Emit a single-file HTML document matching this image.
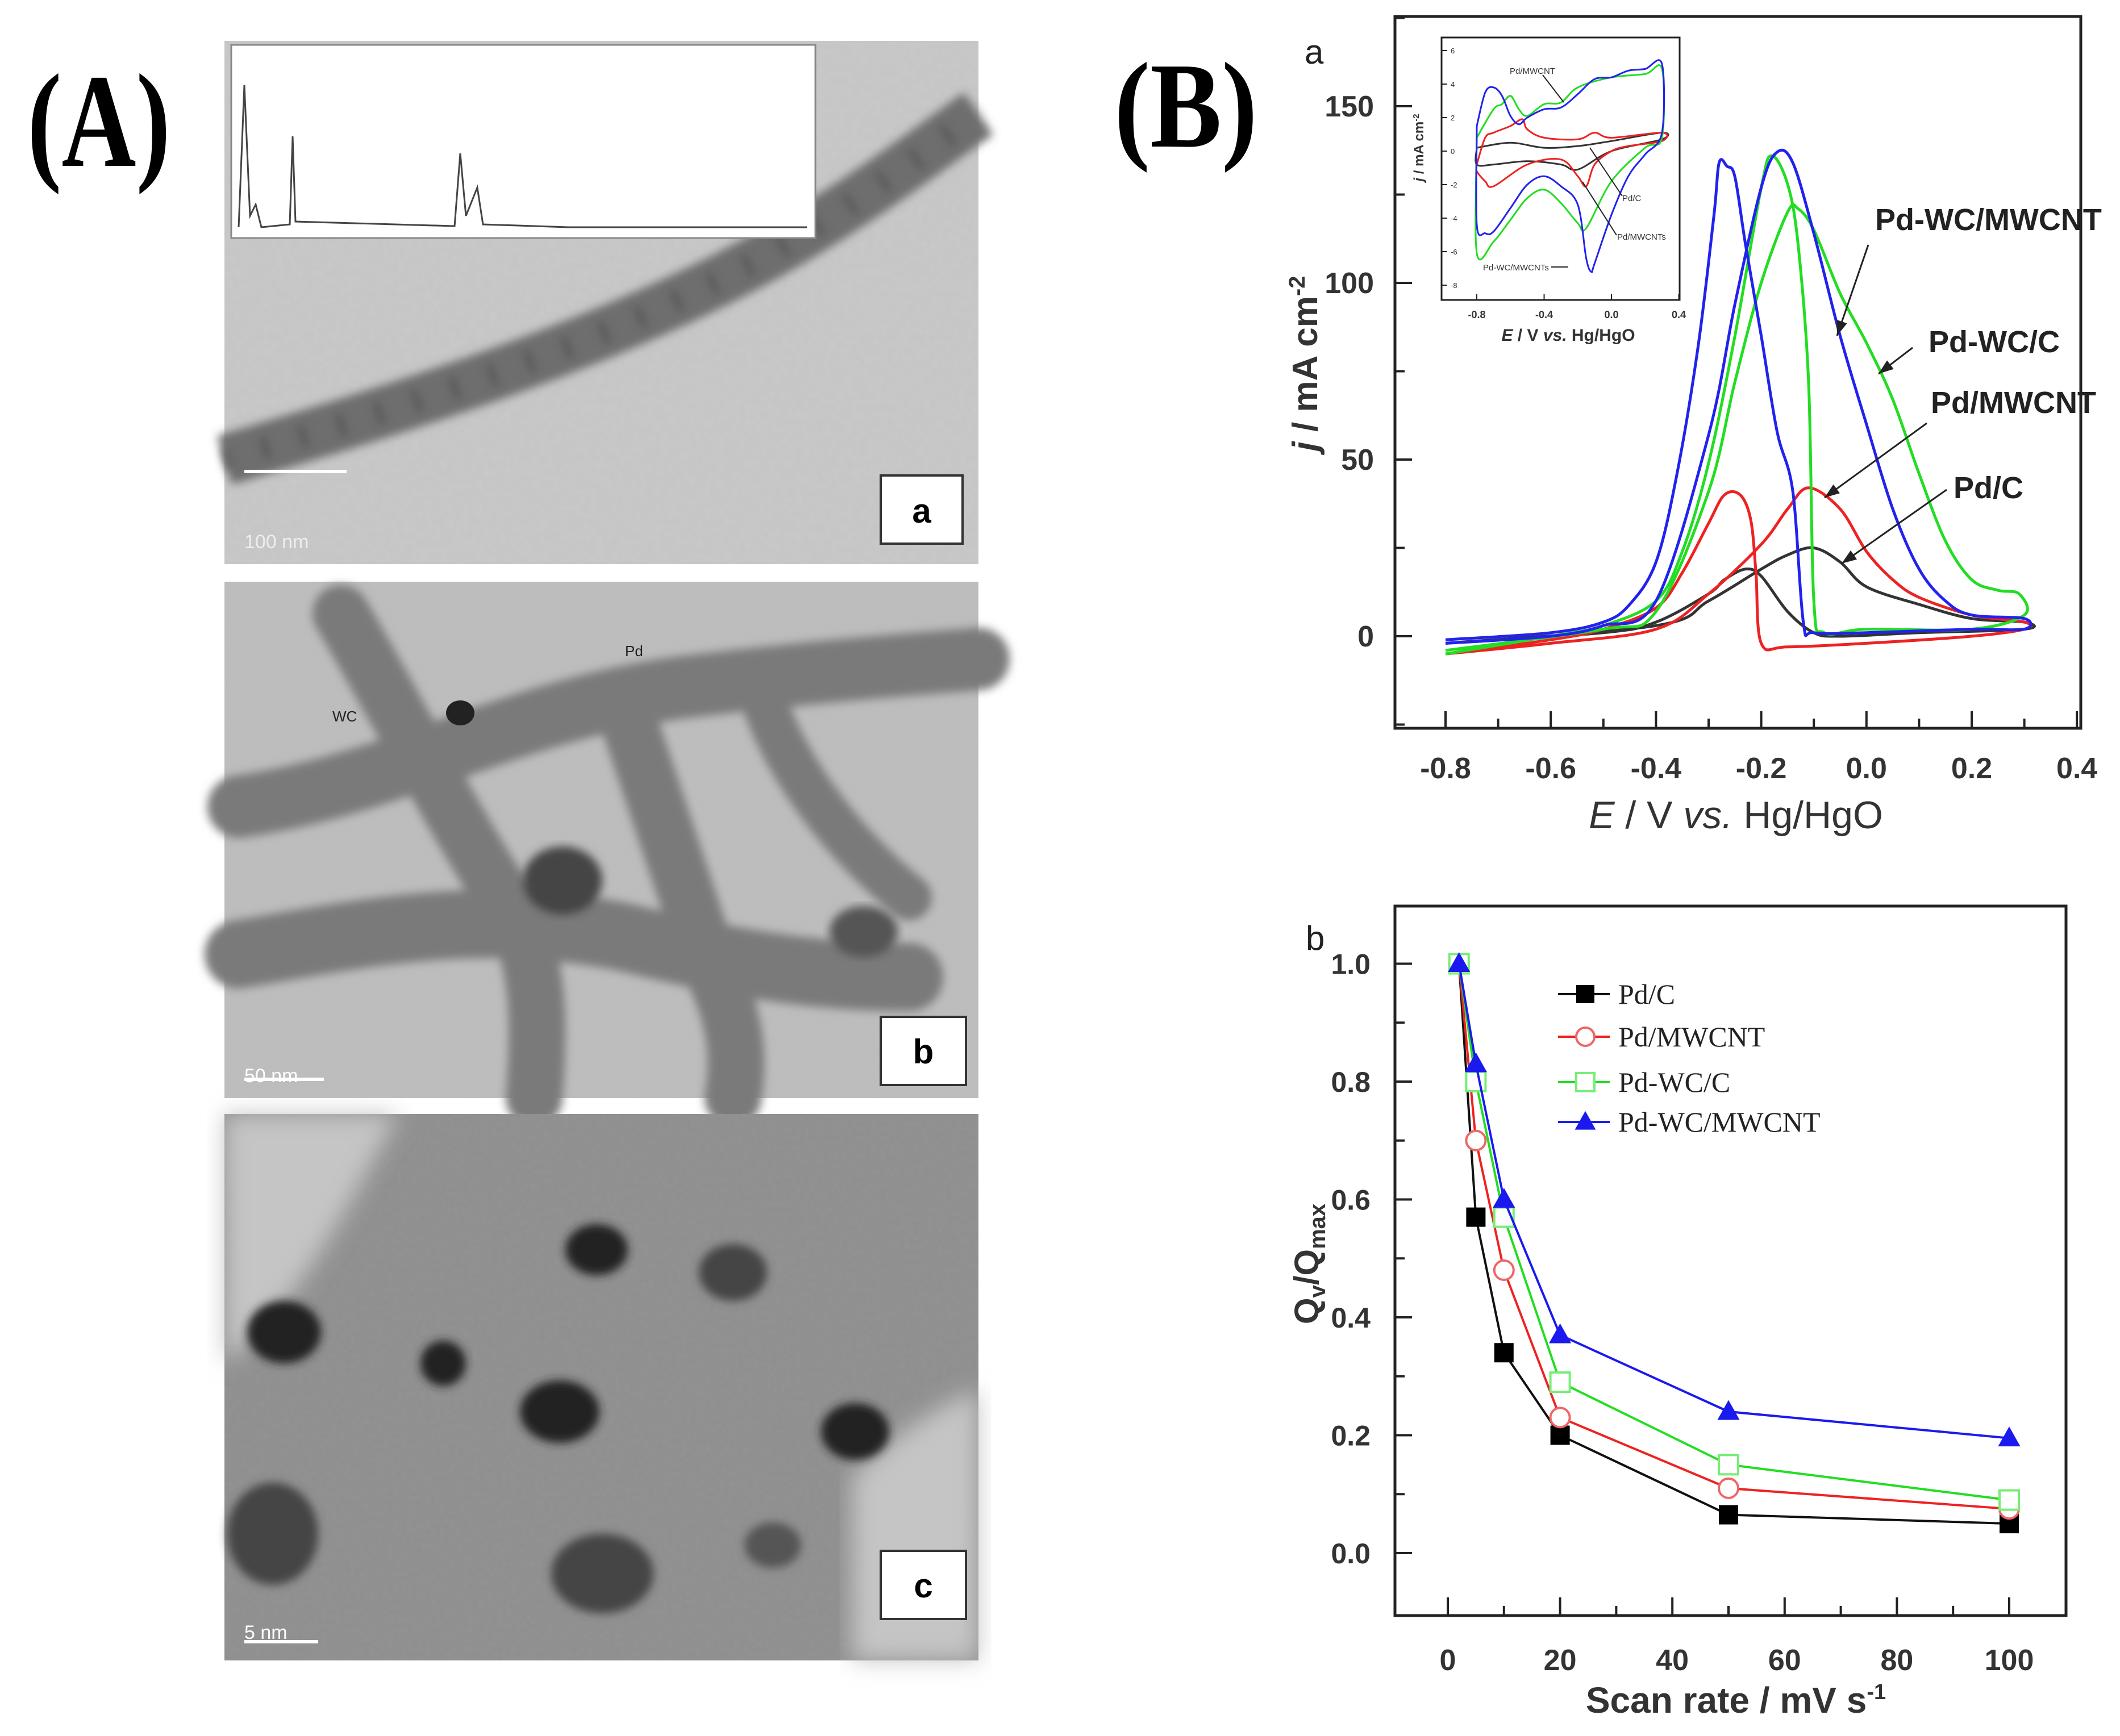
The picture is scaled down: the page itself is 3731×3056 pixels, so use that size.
<!DOCTYPE html>
<html><head><meta charset="utf-8"><style>
html,body{margin:0;padding:0;background:#fff;}
svg{display:block;}
.sans{font-family:"Liberation Sans",sans-serif;}
.serif{font-family:"Liberation Serif",serif;}
</style></head>
<body>
<svg id="fig" width="3731" height="3056" viewBox="0 0 3731 3056" xmlns="http://www.w3.org/2000/svg">
<defs>
<filter id="noiseA" x="0" y="0" width="100%" height="100%"><feTurbulence type="fractalNoise" baseFrequency="0.08" numOctaves="2" seed="3"/><feColorMatrix type="matrix" values="0 0 0 0 0.5  0 0 0 0 0.5  0 0 0 0 0.5  0 0 0 0.35 0"/><feComposite in2="SourceGraphic" operator="in"/></filter>
<filter id="noiseC" x="0" y="0" width="100%" height="100%"><feTurbulence type="fractalNoise" baseFrequency="0.12" numOctaves="3" seed="7"/><feColorMatrix type="matrix" values="0 0 0 0 0.3  0 0 0 0 0.3  0 0 0 0 0.3  0 0 0 0.7 0"/><feComposite in2="SourceGraphic" operator="in"/></filter>
<filter id="blur8"><feGaussianBlur stdDeviation="8"/></filter>
<filter id="blur20"><feGaussianBlur stdDeviation="20"/></filter>
</defs>

<!-- Panel labels -->
<text x="48" y="292" class="serif" font-size="235" font-weight="bold" textLength="252" lengthAdjust="spacingAndGlyphs">(A)</text>
<text x="1961" y="258" class="serif" font-size="215" font-weight="bold" textLength="252" lengthAdjust="spacingAndGlyphs">(B)</text>

<!-- TEM image a -->
<g>
<rect x="395" y="72" width="1327" height="921" fill="#c9c9c9"/>
<rect x="395" y="72" width="1327" height="921" fill="#fff" filter="url(#noiseA)"/>
<path d="M395,810 C700,720 1100,600 1400,420 C1550,330 1650,250 1722,200" stroke="#6e6e6e" stroke-width="90" fill="none" filter="url(#blur8)"/>
<path d="M395,810 C700,720 1100,600 1400,420 C1550,330 1650,250 1722,200" stroke="#555" stroke-width="40" fill="none" stroke-dasharray="10 60" filter="url(#blur8)"/>
<rect x="407" y="79" width="1028" height="340" fill="#fff" stroke="#888" stroke-width="3"/>
<path d="M420,400 L430,150 L440,380 L450,360 L460,400 L510,395 L515,240 L520,390 L800,398 L810,270 L820,380 L840,330 L850,395 L1000,400 L1420,400" stroke="#444" stroke-width="3" fill="none"/>
<line x1="430" y1="830" x2="610" y2="830" stroke="#fff" stroke-width="6"/>
<text x="430" y="965" class="sans" font-size="34" fill="#eee">100 nm</text>
<rect x="1550" y="837" width="144" height="120" fill="#fff" stroke="#333" stroke-width="4"/>
<text x="1622" y="920" text-anchor="middle" class="sans" font-size="60" font-weight="bold">a</text>
</g>

<!-- TEM image b -->
<g>
<rect x="395" y="1024" width="1327" height="909" fill="#bdbdbd"/>
<rect x="395" y="1024" width="1327" height="909" fill="#fff" filter="url(#noiseA)"/>
<g stroke="#7a7a7a" fill="none" stroke-linecap="round" filter="url(#blur8)">
<path d="M420,1420 C700,1380 900,1250 1200,1210 C1450,1180 1600,1170 1722,1160" stroke-width="110"/>
<path d="M600,1080 C700,1250 800,1450 900,1600 C950,1700 950,1800 940,1933" stroke-width="100"/>
<path d="M420,1680 C650,1640 850,1600 1100,1650 C1300,1700 1450,1720 1600,1720" stroke-width="120"/>
<path d="M1100,1250 C1150,1400 1200,1550 1250,1700 C1300,1800 1300,1870 1290,1933" stroke-width="100"/>
<path d="M1350,1250 C1400,1380 1500,1500 1600,1580" stroke-width="80"/>
</g>
<ellipse cx="990" cy="1550" rx="70" ry="60" fill="#444" filter="url(#blur8)"/>
<ellipse cx="1520" cy="1640" rx="60" ry="45" fill="#555" filter="url(#blur8)"/>
<ellipse cx="810" cy="1255" rx="25" ry="22" fill="#222"/>
<line x1="430" y1="1900" x2="570" y2="1900" stroke="#fff" stroke-width="6"/>
<text x="430" y="1905" class="sans" font-size="34" fill="#fff">50 nm</text>
<text x="1100" y="1155" class="sans" font-size="26" fill="#222">Pd</text>
<text x="585" y="1270" class="sans" font-size="26" fill="#222">WC</text>
<rect x="1550" y="1790" width="150" height="120" fill="#fff" stroke="#333" stroke-width="4"/>
<text x="1625" y="1872" text-anchor="middle" class="sans" font-size="60" font-weight="bold">b</text>
</g>

<!-- TEM image c -->
<g>
<rect x="395" y="1961" width="1327" height="962" fill="#8e8e8e"/>
<rect x="395" y="1961" width="1327" height="962" fill="#fff" filter="url(#noiseC)"/>
<path d="M395,1961 L700,1961 C600,2150 520,2300 395,2400 Z" fill="#c5c5c5" filter="url(#blur20)"/>
<path d="M1500,2600 C1600,2500 1700,2450 1722,2450 L1722,2923 L1500,2923 Z" fill="#c5c5c5" filter="url(#blur20)"/>
<g fill="#222" filter="url(#blur8)">
<ellipse cx="500" cy="2345" rx="65" ry="55"/>
<ellipse cx="1050" cy="2200" rx="55" ry="45"/>
<ellipse cx="780" cy="2400" rx="40" ry="40"/>
<ellipse cx="985" cy="2485" rx="70" ry="55"/>
<ellipse cx="1505" cy="2520" rx="60" ry="50"/>
<ellipse cx="1290" cy="2240" rx="60" ry="50" fill="#444"/>
<ellipse cx="1060" cy="2770" rx="90" ry="70" fill="#444"/>
<ellipse cx="480" cy="2700" rx="80" ry="90" fill="#444"/>
<ellipse cx="1360" cy="2720" rx="50" ry="40" fill="#555"/>
</g>
<line x1="430" y1="2890" x2="560" y2="2890" stroke="#fff" stroke-width="6"/>
<text x="430" y="2885" class="sans" font-size="34" fill="#fff">5 nm</text>
<rect x="1550" y="2730" width="150" height="120" fill="#fff" stroke="#333" stroke-width="4"/>
<text x="1625" y="2812" text-anchor="middle" class="sans" font-size="60" font-weight="bold">c</text>
</g>

<g id="chartA"></g>
<g id="chartB"></g>
</svg>

<script>
// ===== Chart a data (CV curves) =====
const cvSeriesNames = ["Pd/C","Pd/MWCNT","Pd-WC/C","Pd-WC/MWCNT"];
const cvColors = ["#333333","#ee2222","#22dd22","#2222ee"];
const cvPdC_E = [-0.8,-0.4,-0.3,-0.2,-0.15,-0.1,-0.05,0,0.1,0.2,0.3,0.3,0.1,-0.05,-0.1,-0.15,-0.2,-0.23,-0.27,-0.3,-0.4,-0.5,-0.8];
const cvPdC_j = [-2,3,10,19,23,25,21,14,9,5,4,2,1,0,1,7,17,19,16,12,4,1,-2];
const cvPdM_E = [-0.8,-0.6,-0.4,-0.3,-0.2,-0.15,-0.11,-0.05,0,0.05,0.1,0.2,0.3,0.3,0.2,0,-0.15,-0.2,-0.21,-0.22,-0.24,-0.27,-0.3,-0.35,-0.4,-0.5,-0.6,-0.8];
const cvPdM_j = [-5,-2,2,12,26,36,42,36,24,16,11,6,4,2,0,-2,-3,-2,18,33,40,40,32,18,8,2,-1,-5];
const cvWCC_E = [-0.8,-0.5,-0.4,-0.3,-0.25,-0.2,-0.15,-0.13,-0.1,-0.05,0,0.05,0.1,0.15,0.2,0.25,0.29,0.3,0.2,0,-0.08,-0.1,-0.11,-0.13,-0.15,-0.18,-0.2,-0.25,-0.3,-0.35,-0.4,-0.5,-0.6,-0.8];
const cvWCC_j = [-4,2,7,41,72,100,120,121,115,97,83,67,46,27,16,13,12,6,2,2,1,10,72,111,128,136,127,85,49,24,10,3,0,-5];
const cvWCM_E = [-0.8,-0.6,-0.5,-0.4,-0.3,-0.25,-0.2,-0.17,-0.14,-0.1,-0.05,0,0.05,0.1,0.15,0.2,0.3,0.3,0.2,0,-0.1,-0.12,-0.14,-0.17,-0.2,-0.23,-0.25,-0.265,-0.28,-0.29,-0.32,-0.36,-0.4,-0.45,-0.5,-0.6,-0.8];
const cvWCM_j = [-2,0,3,10,57,94,127,137,134,114,85,60,36,19,10,6,5,2,2,1,1,4,41,58,85,111,130,133,134,119,82,46,21,9,4,1,-1];
// inset data
const inPdC_E = [-0.8,-0.6,-0.4,-0.2,0,0.3,0.3,0,-0.2,-0.3,-0.5,-0.7,-0.8,-0.8];
const inPdC_j = [0.2,0.5,0.2,0.3,0.6,1.1,0.7,0,-1.1,-0.8,-0.6,-0.8,-0.8,0.2];
const inPdM_E = [-0.8,-0.75,-0.7,-0.6,-0.53,-0.5,-0.4,-0.2,-0.1,0,0.3,0.3,0.1,0,-0.1,-0.15,-0.2,-0.3,-0.5,-0.7,-0.75,-0.8,-0.8];
const inPdM_j = [-0.8,0.8,1.1,1.5,1.9,1.3,0.8,0.7,1.1,0.8,1.1,0.6,0.3,0,-0.8,-2.1,-1.5,-0.5,-0.8,-2.1,-1.8,-1.2,-0.8];
const inWCC_E = [-0.8,-0.7,-0.65,-0.6,-0.55,-0.5,-0.4,-0.3,-0.2,0,0.2,0.3,0.3,0.2,0,-0.15,-0.2,-0.3,-0.4,-0.5,-0.6,-0.7,-0.8,-0.8];
const inWCC_j = [0.8,2.5,2.8,3.3,2.5,2.1,2.8,2.9,3.8,4.4,4.6,4.9,0.8,0.2,-1.8,-4.6,-4.3,-3.1,-2.3,-2.8,-4.1,-5.4,-6.1,0.8];
const inWCM_E = [-0.8,-0.75,-0.7,-0.65,-0.6,-0.55,-0.5,-0.4,-0.3,-0.2,-0.1,0,0.1,0.2,0.3,0.3,0.2,0.1,0,-0.1,-0.12,-0.15,-0.2,-0.3,-0.4,-0.5,-0.6,-0.7,-0.75,-0.8,-0.8];
const inWCM_j = [1.5,3.5,3.8,3.3,2.1,1.6,2.0,2.5,2.6,3.4,4.3,4.4,4.8,4.9,5.2,1.1,-0.2,-1.5,-3.8,-6.7,-7.2,-6.4,-3.2,-2.1,-1.5,-2.0,-3.4,-4.8,-4.9,-4.4,1.5];
const cvXTicks = ["-0.8","-0.6","-0.4","-0.2","0.0","0.2","0.4"];
const cvYTicks = ["0","50","100","150"];
const insetXTicks = ["-0.8","-0.4","0.0","0.4"];
const insetYTicks = ["6","4","2","0","-2","-4","-6","-8"];

// ===== Chart b data =====
const scanRates = [2,5,10,20,50,100];
const qPdC = [1.0,0.57,0.34,0.20,0.065,0.05];
const qPdMWCNT = [1.0,0.70,0.48,0.23,0.11,0.075];
const qPdWCC = [1.0,0.80,0.57,0.29,0.15,0.09];
const qPdWCMWCNT = [1.0,0.83,0.60,0.37,0.24,0.195];
const qXTicks = ["0","20","40","60","80","100"];
const qYTicks = ["0.0","0.2","0.4","0.6","0.8","1.0"];

const NS = "http://www.w3.org/2000/svg";
function mk(parent, tag, attrs){ const e=document.createElementNS(NS,tag); for(const k in attrs) e.setAttribute(k,attrs[k]); parent.appendChild(e); return e; }
function smoothPath(pts){
  let d="M"+pts[0][0].toFixed(1)+","+pts[0][1].toFixed(1);
  for(let i=0;i<pts.length-1;i++){
    const p0=pts[Math.max(0,i-1)],p1=pts[i],p2=pts[i+1],p3=pts[Math.min(pts.length-1,i+2)];
    const c1=[p1[0]+(p2[0]-p0[0])/6,p1[1]+(p2[1]-p0[1])/6];
    const c2=[p2[0]-(p3[0]-p1[0])/6,p2[1]-(p3[1]-p1[1])/6];
    d+=" C"+c1[0].toFixed(1)+","+c1[1].toFixed(1)+" "+c2[0].toFixed(1)+","+c2[1].toFixed(1)+" "+p2[0].toFixed(1)+","+p2[1].toFixed(1);
  }
  return d;
}

// ----- Chart a -----
(function(){
  const g=document.getElementById("chartA");
  const L=2455,R=3662,T=29,B=1282;
  const xS=v=>2544+(v+0.8)/0.2*185.2;
  const yS=v=>1120-v/50*311;
  const frame=mk(g,"rect",{x:L,y:T,width:R-L,height:B-T,fill:"none",stroke:"#222","stroke-width":5});
  
  
  cvXTicks.forEach((t,i)=>{
    const v=parseFloat(t), x=xS(v);
    mk(g,"line",{x1:x,y1:B,x2:x,y2:B-30,stroke:"#222","stroke-width":4});
    if(i<cvXTicks.length-1){ const xm=xS(v+0.1); mk(g,"line",{x1:xm,y1:B,x2:xm,y2:B-17,stroke:"#222","stroke-width":4}); }
    const tx=mk(g,"text",{x:x,y:1370,"text-anchor":"middle","font-size":52,"font-weight":"bold",class:"sans",fill:"#333"});
    tx.textContent=t;
    
    
  });
  cvYTicks.forEach((t)=>{
    const v=parseFloat(t), y=yS(v);
    mk(g,"line",{x1:L,y1:y,x2:L+30,y2:y,stroke:"#222","stroke-width":4});
    const ym=yS(v+25); if(ym>T) mk(g,"line",{x1:L,y1:ym,x2:L+17,y2:ym,stroke:"#222","stroke-width":4});
    const tx=mk(g,"text",{x:2418,y:y+18,"text-anchor":"end","font-size":52,"font-weight":"bold",class:"sans",fill:"#333"});
    tx.textContent=t;
    
    
  });
  mk(g,"line",{x1:L,y1:yS(-25),x2:L+17,y2:yS(-25),stroke:"#222","stroke-width":4});
  const xt=mk(g,"text",{x:3055,y:1458,"text-anchor":"middle","font-size":68,class:"sans",fill:"#333"});
  xt.innerHTML='<tspan font-style="italic">E</tspan> / V <tspan font-style="italic">vs.</tspan> Hg/HgO';
  
  
  const yt=mk(g,"text",{x:0,y:0,"text-anchor":"middle","font-size":62,"font-weight":"bold",class:"sans",fill:"#333",transform:"translate(2318,640) rotate(-90)"});
  yt.innerHTML='<tspan font-style="italic">j</tspan> / mA cm<tspan dy="-22" font-size="40">-2</tspan>';
  
  
  const lab=mk(g,"text",{x:2296,y:112,"font-size":60,class:"sans",fill:"#222"}); lab.textContent="a";
  
  
  const sets=[[cvPdC_E,cvPdC_j],[cvPdM_E,cvPdM_j],[cvWCC_E,cvWCC_j],[cvWCM_E,cvWCM_j]];
  sets.forEach((s,i)=>{
    const pts=s[0].map((e,k)=>[xS(e),yS(s[1][k])]);
    const p=mk(g,"path",{d:smoothPath(pts),fill:"none",stroke:cvColors[i],"stroke-width":5});
    
    
  });
  // annotations
  const ann=[["Pd-WC/MWCNT",3300,405,3288,431,3233,591],["Pd-WC/C",3394,620,3366,612,3306,658],["Pd/MWCNT",3398,727,3391,745,3211,876],["Pd/C",3438,877,3426,862,3241,992]];
  ann.forEach(a=>{
    const t=mk(g,"text",{x:a[1],y:a[2],"font-size":54,"font-weight":"bold",class:"sans",fill:"#222"}); t.textContent=a[0];
    
    
    mk(g,"line",{x1:a[3],y1:a[4],x2:a[5],y2:a[6],stroke:"#222","stroke-width":3});
    const ang=Math.atan2(a[6]-a[4],a[5]-a[3]), s=28;
    const p1=[a[5]-s*Math.cos(ang-0.35),a[6]-s*Math.sin(ang-0.35)], p2=[a[5]-s*Math.cos(ang+0.35),a[6]-s*Math.sin(ang+0.35)];
    mk(g,"polygon",{points:`${a[5]},${a[6]} ${p1[0]},${p1[1]} ${p2[0]},${p2[1]}`,fill:"#222"});
  });
  // inset
  const iL=2537,iR=2956,iT=66,iB=528;
  const ixS=v=>2599+(v+0.8)/0.4*118.5;
  const iyS=v=>266-v/2*59;
  const ib=mk(g,"rect",{x:iL,y:iT,width:iR-iL,height:iB-iT,fill:"#fff",stroke:"#222","stroke-width":3});
  
  
  insetXTicks.forEach(t=>{ const x=ixS(parseFloat(t));
    mk(g,"line",{x1:x,y1:iB,x2:x,y2:iB-10,stroke:"#222","stroke-width":2});
    const tx=mk(g,"text",{x:x,y:iB+32,"text-anchor":"middle","font-size":18,"font-weight":"bold",class:"sans",fill:"#333"}); tx.textContent=t;
    
    
  });
  insetYTicks.forEach(t=>{ const y=iyS(parseFloat(t));
    mk(g,"line",{x1:iL,y1:y,x2:iL+10,y2:y,stroke:"#222","stroke-width":2});
    const tx=mk(g,"text",{x:iL+16,y:y+5,"font-size":13,class:"sans",fill:"#333"}); tx.textContent=t;
    
    
  });
  const ixt=mk(g,"text",{x:2760,y:600,"text-anchor":"middle","font-size":30,"font-weight":"bold",class:"sans",fill:"#333"});
  ixt.innerHTML='<tspan font-style="italic">E</tspan> / V <tspan font-style="italic">vs.</tspan> Hg/HgO';
  
  
  const iyt=mk(g,"text",{x:0,y:0,"text-anchor":"middle","font-size":24,"font-weight":"bold",class:"sans",fill:"#333",transform:"translate(2505,260) rotate(-90)"});
  iyt.innerHTML='<tspan font-style="italic">j</tspan> / mA cm<tspan dy="-8" font-size="15">-2</tspan>';
  
  
  const isets=[[inPdC_E,inPdC_j],[inPdM_E,inPdM_j],[inWCC_E,inWCC_j],[inWCM_E,inWCM_j]];
  isets.forEach((s,i)=>{
    const pts=s[0].map((e,k)=>[ixS(e),iyS(s[1][k])]);
    const p=mk(g,"path",{d:smoothPath(pts),fill:"none",stroke:cvColors[i],"stroke-width":3});
    
    
  });
  [["Pd/MWCNT",2657,130],["Pd/C",2855,354],["Pd/MWCNTs",2846,422],["Pd-WC/MWCNTs",2610,476]].forEach(a=>{
    const t=mk(g,"text",{x:a[1],y:a[2],"font-size":15,class:"sans",fill:"#333"}); t.textContent=a[0];
    
    
  });
  mk(g,"line",{x1:2715,y1:132,x2:2752,y2:180,stroke:"#222","stroke-width":2});
  mk(g,"line",{x1:2798,y1:260,x2:2855,y2:345,stroke:"#222","stroke-width":2});
  mk(g,"line",{x1:2785,y1:320,x2:2845,y2:414,stroke:"#222","stroke-width":2});
  mk(g,"line",{x1:2730,y1:470,x2:2760,y2:470,stroke:"#222","stroke-width":2});
})();

// ----- Chart b -----
(function(){
  const g=document.getElementById("chartB");
  const L=2455,R=3636,T=1595,B=2844;
  const xS=v=>2548+v/20*197.6;
  const yS=v=>2734-v/0.2*207.5;
  const frame=mk(g,"rect",{x:L,y:T,width:R-L,height:B-T,fill:"none",stroke:"#222","stroke-width":5});
  
  
  qXTicks.forEach((t,i)=>{
    const v=parseFloat(t), x=xS(v);
    mk(g,"line",{x1:x,y1:B,x2:x,y2:B-32,stroke:"#222","stroke-width":4});
    if(i<qXTicks.length-1){ const xm=xS(v+10); mk(g,"line",{x1:xm,y1:B,x2:xm,y2:B-17,stroke:"#222","stroke-width":4}); }
    const tx=mk(g,"text",{x:x,y:2940,"text-anchor":"middle","font-size":52,"font-weight":"bold",class:"sans",fill:"#333"}); tx.textContent=t;
    
    
  });
  qYTicks.forEach((t)=>{
    const v=parseFloat(t), y=yS(v);
    mk(g,"line",{x1:L,y1:y,x2:L+30,y2:y,stroke:"#222","stroke-width":4});
    const ym=yS(v+0.1); if(ym>T) mk(g,"line",{x1:L,y1:ym,x2:L+17,y2:ym,stroke:"#222","stroke-width":4});
    const tx=mk(g,"text",{x:2412,y:y+18,"text-anchor":"end","font-size":50,"font-weight":"bold",class:"sans",fill:"#333"}); tx.textContent=t;
    
    
  });
  const xt=mk(g,"text",{x:3055,y:3015,"text-anchor":"middle","font-size":64,"font-weight":"bold",class:"sans",fill:"#333"});
  xt.innerHTML='Scan rate / mV s<tspan dy="-24" font-size="38">-1</tspan>';
  
  
  const yt=mk(g,"text",{x:0,y:0,"text-anchor":"middle","font-size":60,"font-weight":"bold",class:"sans",fill:"#333",transform:"translate(2320,2225) rotate(-90)"});
  yt.innerHTML='Q<tspan dy="12" font-size="40">v</tspan><tspan dy="-12">/Q</tspan><tspan dy="12" font-size="40">max</tspan>';
  
  
  const lab=mk(g,"text",{x:2298,y:1672,"font-size":60,class:"sans",fill:"#222"}); lab.textContent="b";
  
  
  const series=[qPdC,qPdMWCNT,qPdWCC,qPdWCMWCNT];
  const cols=["#111111","#ee2222","#22dd22","#1a1aee"];
  function marker(i,x,y,s){
    if(i===0) return mk(g,"rect",{x:x-s,y:y-s,width:2*s,height:2*s,fill:"#000"});
    if(i===1) return mk(g,"circle",{cx:x,cy:y,r:s,fill:"#fff",stroke:"#ee6666","stroke-width":4});
    if(i===2) return mk(g,"rect",{x:x-s,y:y-s,width:2*s,height:2*s,fill:"#fff",stroke:"#77ee77","stroke-width":4});
    return mk(g,"polygon",{points:`${x},${y-s*1.2} ${x-s*1.15},${y+s*0.85} ${x+s*1.15},${y+s*0.85}`,fill:"#1a1aee"});
  }
  series.forEach((vals,i)=>{
    const pts=scanRates.map((r,k)=>[xS(r),yS(vals[k])]);
    const pl=mk(g,"polyline",{points:pts.map(p=>p.join(",")).join(" "),fill:"none",stroke:cols[i],"stroke-width":4});
    
    
    pts.forEach(p=>{
      const m=marker(i,p[0],p[1],17);
      
      
    });
  });
  const ly=[1750,1825,1905,1975];
  cvSeriesNames.forEach((n,i)=>{
    mk(g,"line",{x1:2742,y1:ly[i],x2:2833,y2:ly[i],stroke:cols[i],"stroke-width":4});
    const m=marker(i,2790,ly[i],16);
    
    
    const t=mk(g,"text",{x:2848,y:ly[i]+17,"font-size":50,class:"serif",fill:"#222"}); t.textContent=n;
    
    
  });
})();
</script>
</body></html>
